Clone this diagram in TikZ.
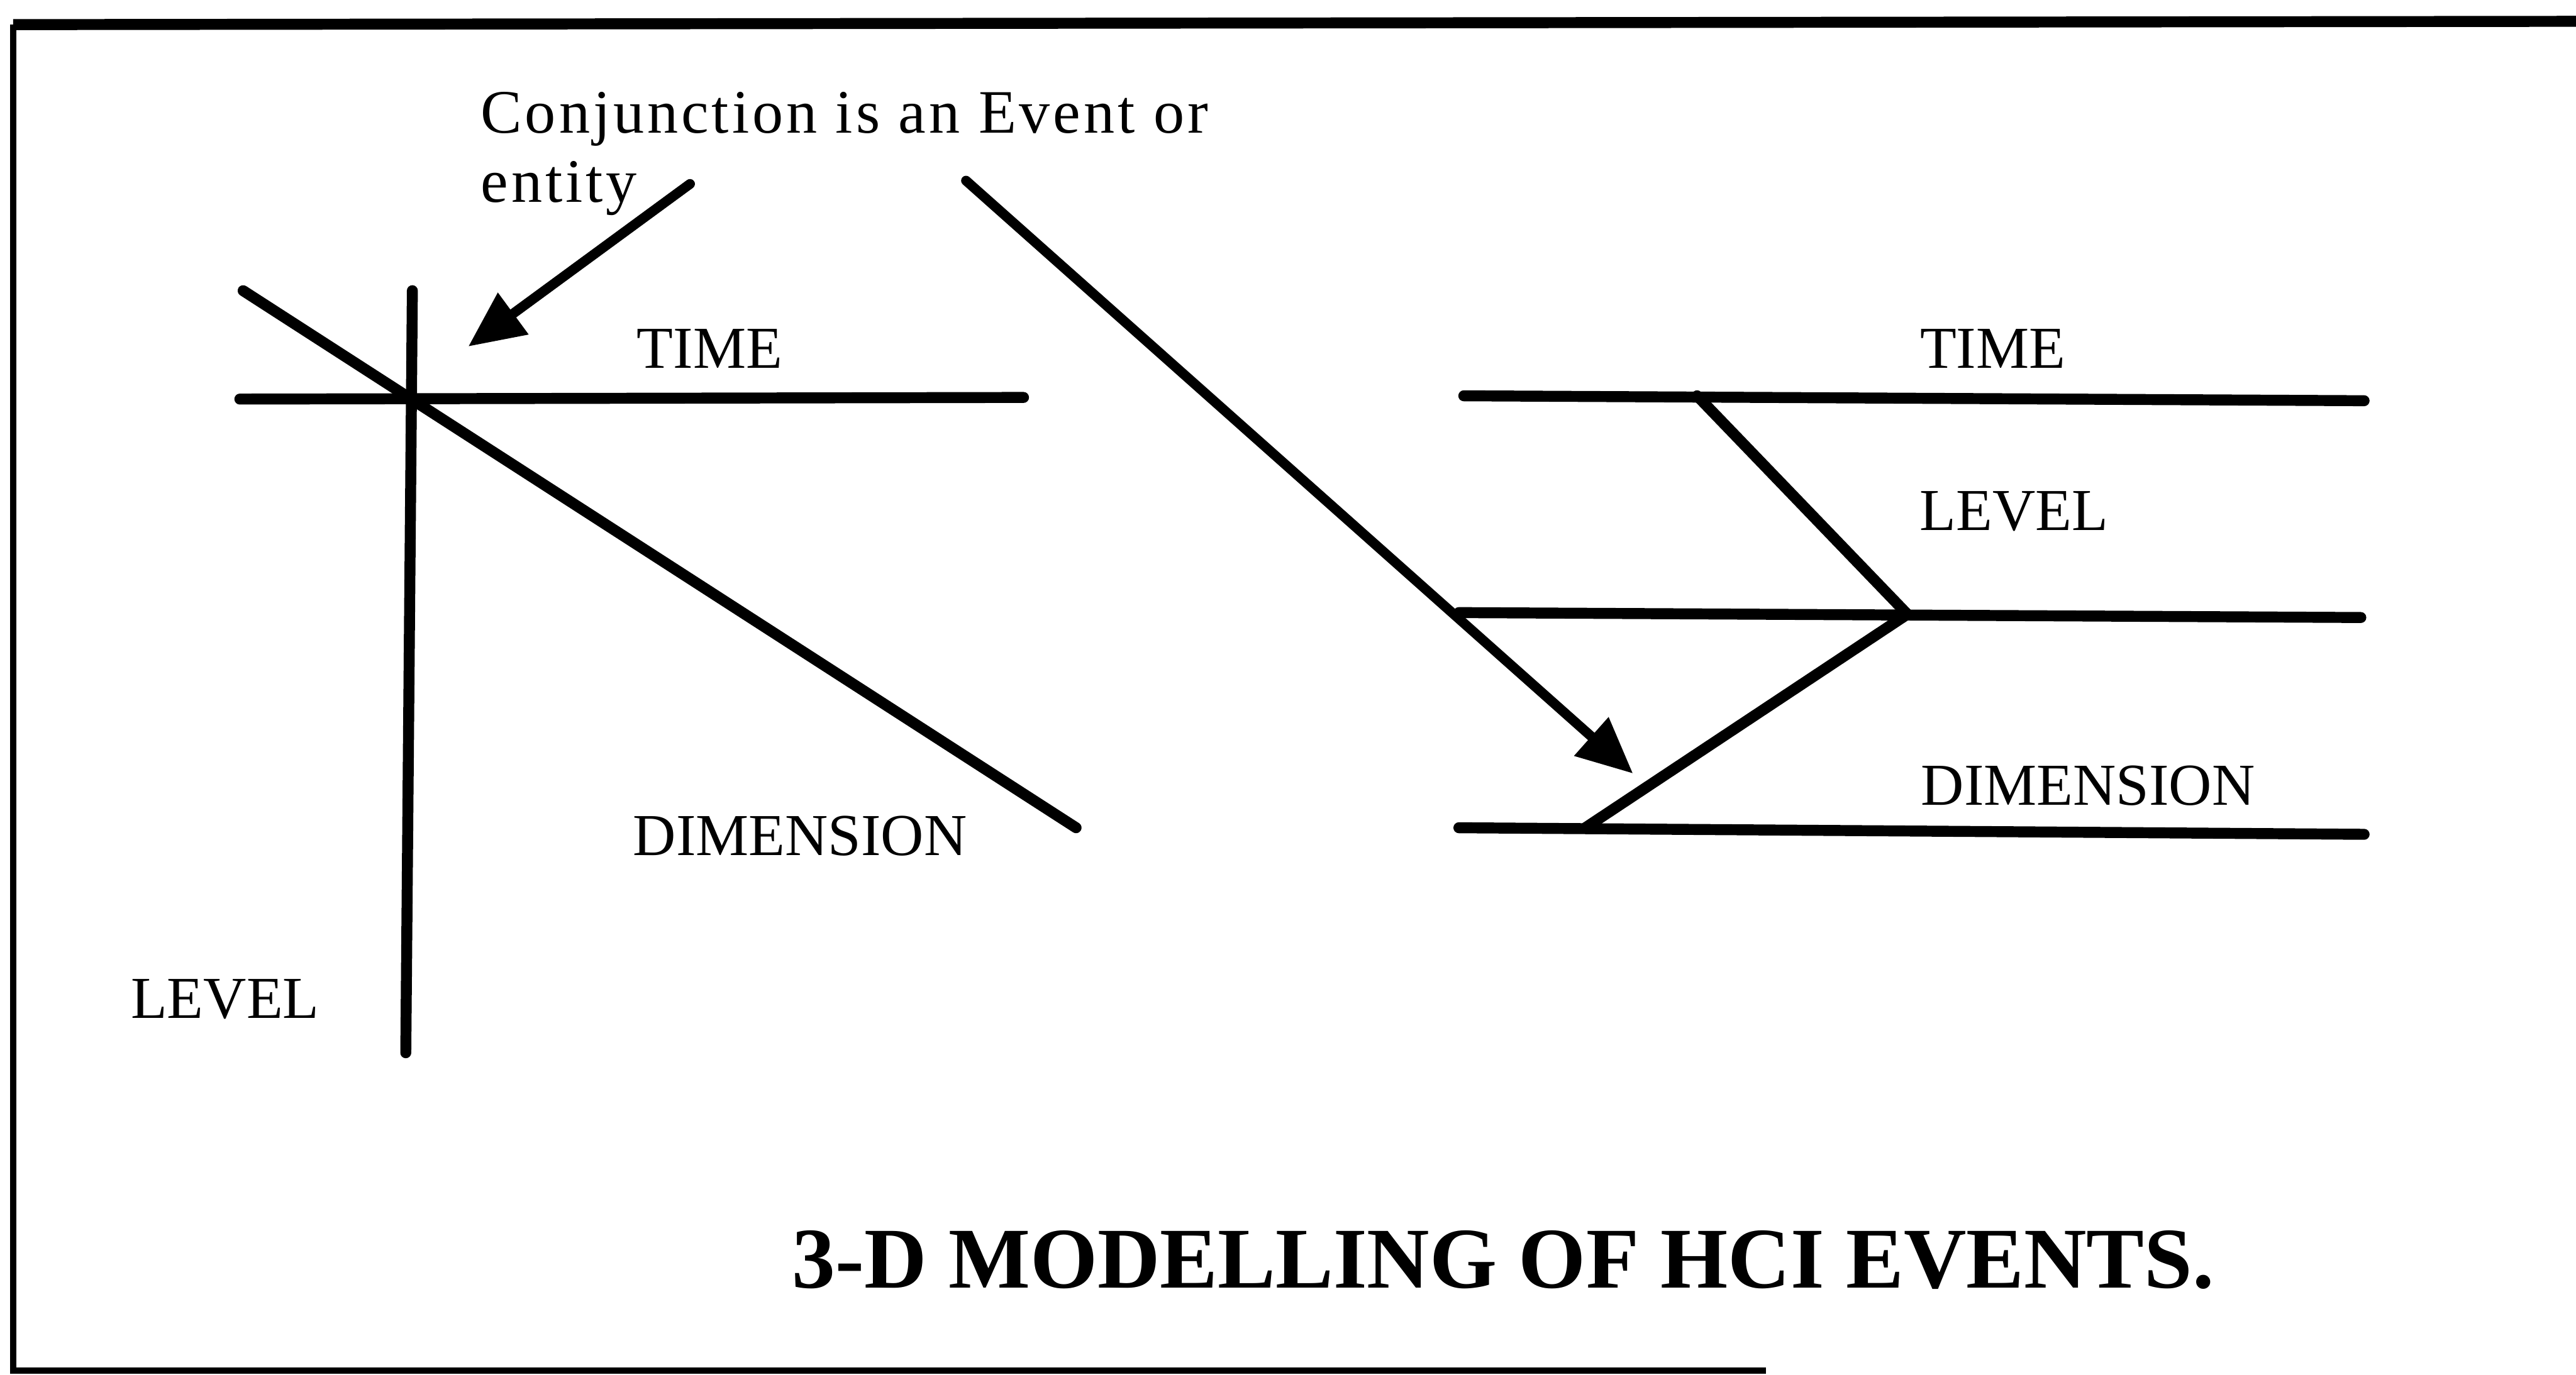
\documentclass[tikz,border=0pt]{standalone}
\usepackage{fontspec}
\setmainfont{Liberation Serif}
\newfontfamily\notefont[LetterSpace=5]{Liberation Serif}
\usepackage{tikz}
\usetikzlibrary{arrows.meta, positioning}
\tikzstyle{axis} = [line width=1.9pt, line cap=round]
\tikzstyle{arrow} = [line width=1.7pt, line cap=round, -{Triangle[length=3.4mm, width=3mm]}]
\tikzstyle{axislabel} = [inner sep=0pt, anchor=base, font=\fontsize{10.3}{12}\selectfont]
\tikzstyle{frameline} = [line width=1.1pt]

\begin{document}
\begin{tikzpicture}
\useasboundingbox (0,0) rectangle (15.68,8.37);

% Frame
\coordinate (fTL) at (0.08,8.22);
\coordinate (fTR) at (15.68,8.24);
\coordinate (fBL) at (0.08,0.025);
\coordinate (fBR) at (10.75,0.025);
\draw [line width=1.9pt] (fTL) -- (fTR);
\draw [frameline] (fTL) -- (fBL) -- (fBR);

% Left model: three crossing axes
\coordinate (lvTop) at (2.51,6.60);
\coordinate (lvBot) at (2.47,1.96);
\coordinate (tmL) at (1.46,5.94);
\coordinate (tmR) at (6.23,5.95);
\coordinate (dmL) at (1.48,6.60);
\coordinate (dmR) at (6.55,3.33);
\draw [axis] (lvTop) -- (lvBot);
\draw [axis] (tmL) -- (tmR);
\draw [axis] (dmL) -- (dmR);

\node (timeL) [axislabel] at (4.32,6.13) {TIME};
\node (dimL) [axislabel] at (4.87,3.16) {DIMENSION};
\node (levelL) [axislabel] at (1.37,2.17) {LEVEL};

% Right model: stacked planes
\coordinate (rTmL) at (8.91,5.96);
\coordinate (rTmR) at (14.39,5.93);
\coordinate (rLvL) at (8.88,4.64);
\coordinate (rLvR) at (14.37,4.61);
\coordinate (rDmL) at (8.88,3.33);
\coordinate (rDmR) at (14.39,3.29);
\draw [axis] (rTmL) -- (rTmR);
\draw [axis] (rLvL) -- (rLvR);
\draw [axis] (rDmL) -- (rDmR);

\coordinate (zigA) at (10.33,5.96);
\coordinate (zigB) at (11.61,4.63);
\coordinate (zigC) at (9.65,3.33);
\draw [axis, line join=miter] (zigA) -- (zigB) -- (zigC);

\node (timeR) [axislabel] at (12.13,6.13) {TIME};
\node (levelR) [axislabel] at (12.26,5.14) {LEVEL};
\node (dimR) [axislabel] at (12.71,3.47) {DIMENSION};

% Note and arrows
\node (note) [inner sep=0pt, anchor=base west, align=left,
  font=\fontsize{10.7}{12}\notefont] at (2.92,7.14)
  {Conjunction is an Event or\\entity};
\coordinate (noteA) at (4.20,7.25);
\coordinate (noteB) at (5.88,7.27);
\coordinate (hitL) at (2.85,6.26);
\coordinate (hitR) at (9.94,3.66);
\draw [arrow] (noteA) -- (hitL);
\draw [arrow] (noteB) -- (hitR);

% Caption
\node (title) [inner sep=0pt, anchor=base,
  font=\fontsize{15}{18}\selectfont\bfseries] at (9.15,0.53)
  {3-D MODELLING OF HCI EVENTS.};

\end{tikzpicture}
\end{document}
